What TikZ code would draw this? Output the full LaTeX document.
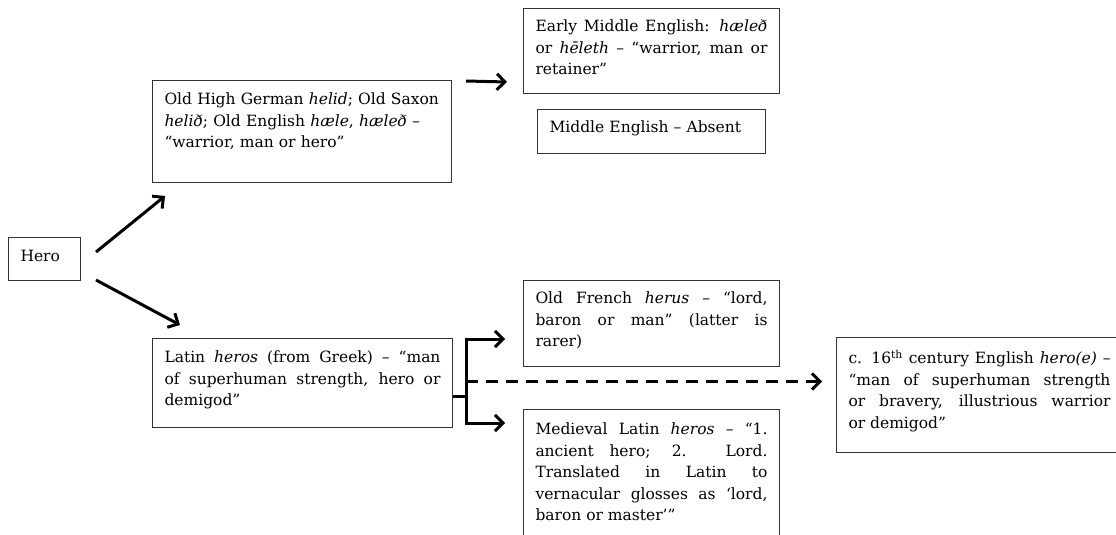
\documentclass[tikz,border=0pt]{standalone}
\usepackage{fontspec}
\setmainfont{DejaVu Serif}
\usetikzlibrary{positioning,arrows.meta}

\tikzset{
    box/.style={draw=black!80, line width=1pt, rectangle, anchor=north west, inner xsep=12pt, inner ysep=0pt, text height=24pt, align=justify, font=\fontsize{15.5}{21.5}\selectfont},
    arr/.style={line width=3pt, -{Straight Barb[length=8pt,width=16pt]}},
    forkline/.style={line width=3pt},
}

\begin{document}
\begin{tikzpicture}[x=1pt, y=-1pt]
    \clip (0,0) rectangle (1116,535);
    % boxes
    \node [box, text width=48pt, text depth=19pt, align=left] (hero) at (8,237) {Hero};
    \node [box, text width=275pt, text depth=78pt, align=left] (ohg) at (152,80) {Old High German \textit{helid}; Old Saxon\\ \textit{helið}; Old English \textit{hæle}, \textit{hæleð} –\\ “warrior, man or hero”};
    \node [box, text width=276pt, text depth=65pt] (latin) at (152,338) {Latin \textit{heros} (from Greek) – “man\linebreak of superhuman strength, hero or\linebreak demigod”};
    \node [box, text width=232pt, text height=23pt, text depth=62pt] (eme) at (523,8) {Early Middle English: \textit{hæleð}\linebreak or \textit{hēleth} – “warrior, man or\linebreak retainer”};
    \node [box, text width=204pt, text height=23pt, text depth=21pt, align=left, below=15pt of eme] (mea) {Middle English – Absent};
    \node [box, text width=232pt, text height=23pt, text depth=63pt] (ofr) at (523,280) {Old French \textit{herus} – “lord,\linebreak baron or man” (latter is\linebreak rarer)};
    \node [box, text width=232pt, text height=25pt, text depth=160pt, below=42pt of ofr] (mlat) {Medieval Latin \textit{heros} – “1.\linebreak ancient hero; 2. Lord.\linebreak Translated in Latin to\linebreak vernacular glosses as ‘lord,\linebreak baron or master’”};
    \node [box, text width=262pt, text height=26pt, text depth=89pt] (c16) at (836,337) {c. 16\textsuperscript{th} century English \textit{hero(e)} –\linebreak “man of superhuman strength\linebreak or bravery, illustrious warrior\linebreak or demigod”};
    % arrows
    \draw [arr] ([xshift=15pt, yshift=7pt]hero.east) -- ([xshift=13pt, yshift=-13pt]ohg.south west);
    \draw [arr] ([xshift=15pt, yshift=-21pt]hero.east) -- ([xshift=28pt, yshift=13pt]latin.north west);
    \draw [arr] ([xshift=14pt, yshift=-1pt]ohg.north east) -- ([xshift=-16pt, yshift=12pt]eme.south west);
    \coordinate (fork) at ([xshift=13pt, yshift=-13.5pt]latin.east);
    \draw [forkline] ([yshift=-13.5pt]latin.east) -- (fork);
    \draw [arr] (fork) |- ([xshift=-18pt, yshift=28pt]ofr.south west);
    \draw [arr] (fork) |- ([xshift=-18pt, yshift=-14pt]mlat.north west);
    \draw [arr, dash pattern=on 12pt off 8pt] ([yshift=15pt]fork) -- ([xshift=-14pt, yshift=13.5pt]c16.west);
\end{tikzpicture}
\end{document}
